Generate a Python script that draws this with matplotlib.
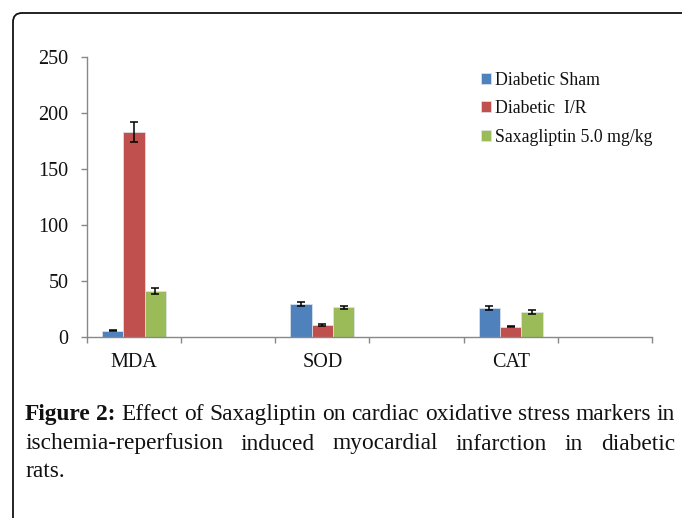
import matplotlib.pyplot as plt
from matplotlib.patches import FancyBboxPatch
from matplotlib.transforms import IdentityTransform
import numpy as np

# Dados
categories = ['MDA', 'SOD', 'CAT']
series_names = ['Diabetic Sham', 'Diabetic  I/R', 'Saxagliptin 5.0 mg/kg']
sham = [5.5, 29.6, 26.0]
sham_err = [0.6, 1.8, 1.8]
ir = [183.0, 10.5, 9.0]
ir_err = [9.0, 0.6, 0.5]
saxa = [40.8, 26.3, 22.4]
saxa_err = [2.3, 1.2, 1.8]
y_ticks = [0, 50, 100, 150, 200, 250]

caption_line1 = 'Effect of Saxagliptin on cardiac oxidative stress markers in'
caption_line2 = 'ischemia-reperfusion induced myocardial infarction in diabetic'
caption_line3 = 'rats.'

colors = ['#4F81BD', '#C0504D', '#9BBB59']
serif = 'Liberation Serif'
W, H = 682, 518

fig = plt.figure(figsize=(W / 100, H / 100), dpi=100)
ax = fig.add_axes([87 / W, (H - 336.7) / H, 565 / W, 280 / H])

# 6 categorias no Excel: só as posições 0, 2 e 4 têm dados
pos = np.arange(len(categories)) * 2
bw = 0.227
all_vals = [sham, ir, saxa]
all_errs = [sham_err, ir_err, saxa_err]
for i in range(3):
    ax.bar(pos + (i - 1) * bw, all_vals[i], bw, color=colors[i],
           edgecolor='#dfe6ee', linewidth=0.5, label=series_names[i],
           yerr=all_errs[i], capsize=2.9,
           error_kw=dict(ecolor='black', elinewidth=1.1, capthick=1.1))

ax.set_xlim(-0.5, 5.5)
ax.set_ylim(0, 250)
ax.set_yticks(y_ticks)
ax.set_yticklabels([str(v) for v in y_ticks], fontfamily=serif, fontsize=14.5,
                   color='#111111')
ax.set_xticks(np.arange(-0.5, 5.6, 1.0))
ax.set_xticklabels([])
ax.set_xticks(pos, minor=True)
ax.set_xticklabels(categories, minor=True, fontfamily=serif, fontsize=14.5,
                   color='#111111')
ax.tick_params(axis='x', which='major', length=4.3, width=1, color='#888888',
               direction='out')
ax.tick_params(axis='x', which='minor', length=0, pad=12)
ax.tick_params(axis='y', length=4.3, width=1, color='#888888', pad=9)
for s in ['top', 'right']:
    ax.spines[s].set_visible(False)
for s in ['left', 'bottom']:
    ax.spines[s].set_color('#888888')
    ax.spines[s].set_linewidth(1)

leg = ax.legend(loc='upper left', bbox_to_anchor=(0.697, 0.947), frameon=False,
                prop={'family': serif, 'size': 12.8}, handlelength=0.6,
                handleheight=0.6, handletextpad=0.2, labelspacing=0.65,
                borderpad=0, borderaxespad=0)
for t in leg.get_texts():
    t.set_color('#111111')

# Borda arredondada da figura (corta à direita e embaixo)
border = FancyBboxPatch((13, -40), 760, H - 13 + 40,
                        boxstyle='round,pad=0,rounding_size=9',
                        transform=IdentityTransform(), fill=False,
                        edgecolor='#111111', linewidth=1.3)
fig.patches.append(border)

# Legenda da figura, justificada
renderer = fig.canvas.get_renderer()


def word_widths(words, size):
    ws = []
    for w, bold in words:
        t = fig.text(0, 0, w, fontfamily=serif, fontsize=size,
                     fontweight='bold' if bold else 'normal')
        ws.append(t.get_window_extent(renderer).width)
        t.remove()
    return ws


line1 = [('Figure', True), ('2:', True)] + [(w, False) for w in caption_line1.split()]
line2 = [(w, False) for w in caption_line2.split()]

ws0 = word_widths(line1, 10)
space0 = 2.5 * 100 / 72 * 1.0
natural = sum(ws0) + space0 * (len(ws0) - 1)
cap_size = 10 * 650 / natural

x_left, x_right = 25, 675


def draw_justified(words, baseline):
    ws = word_widths(words, cap_size)
    gap = (x_right - x_left - sum(ws)) / (len(ws) - 1)
    x = x_left
    for (w, bold), wd in zip(words, ws):
        fig.text(x / W, (H - baseline) / H, w, fontfamily=serif,
                 fontsize=cap_size, fontweight='bold' if bold else 'normal',
                 color='#111111', va='baseline', ha='left')
        x += wd + gap


draw_justified(line1, 420)
draw_justified(line2, 449.5)
fig.text(x_left / W, (H - 477) / H, caption_line3, fontfamily=serif,
         fontsize=cap_size, color='#111111', va='baseline', ha='left')

fig.savefig('out.png', dpi=100)
